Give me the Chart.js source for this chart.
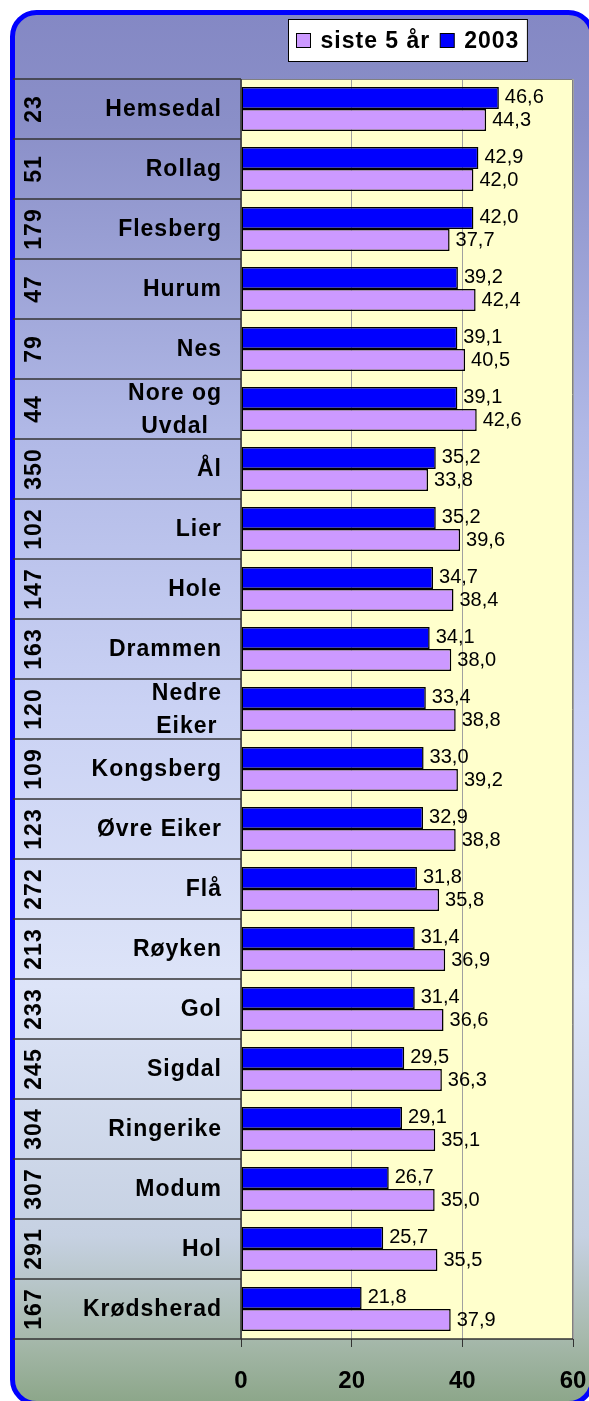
<!DOCTYPE html>
<html>
<head>
<meta charset="utf-8">
<script src="https://cdn.jsdelivr.net/npm/chart.js@4.4.0/dist/chart.umd.min.js"></script>
<style>
  html, body { margin: 0; padding: 0; background: #fff; }
  #chart { display: block; }
</style>
</head>
<body>
<canvas id="chart" width="589" height="1401"></canvas>
<script>
// data
const kommuner = ["Hemsedal", "Rollag", "Flesberg", "Hurum", "Nes", ["Nore og", "Uvdal"], "Ål", "Lier", "Hole",
  "Drammen", ["Nedre", "Eiker"], "Kongsberg", "Øvre Eiker", "Flå", "Røyken", "Gol", "Sigdal", "Ringerike",
  "Modum", "Hol", "Krødsherad"];
const rangering = ["23", "51", "179", "47", "79", "44", "350", "102", "147", "163", "120", "109", "123",
  "272", "213", "233", "245", "304", "307", "291", "167"];
const aar2003 = [46.6, 42.9, 42.0, 39.2, 39.1, 39.1, 35.2, 35.2, 34.7, 34.1, 33.4, 33.0, 32.9, 31.8, 31.4,
  31.4, 29.5, 29.1, 26.7, 25.7, 21.8];
const siste5aar = [44.3, 42.0, 37.7, 42.4, 40.5, 42.6, 33.8, 39.6, 38.4, 38.0, 38.8, 39.2, 38.8, 35.8, 36.9,
  36.6, 36.3, 35.1, 35.0, 35.5, 37.9];
const xTicks = [0, 20, 40, 60];

const BLUE = "#0000ff";
const PURPLE = "#cc99ff";
const PANEL_LEFT = 13;

function fmt(v) {
  return v.toFixed(1).replace(".", ",");
}

// background, plot area fill and the legend box
const backgroundPlugin = {
  id: "background",
  beforeDraw(chart) {
    const ctx = chart.ctx;
    const a = chart.chartArea;
    ctx.save();
    ctx.fillStyle = "#ffffff";
    ctx.fillRect(0, 0, chart.width, chart.height);

    const g = ctx.createLinearGradient(0, 12, 0, 1403);
    g.addColorStop(0, "#8488c4");
    g.addColorStop(0.08, "#8a8fc8");
    g.addColorStop(0.3, "#b0b8e6");
    g.addColorStop(0.5, "#cad2f4");
    g.addColorStop(0.7, "#dde4f8");
    g.addColorStop(0.88, "#c6d1e2");
    g.addColorStop(0.95, "#a8baae");
    g.addColorStop(1, "#8ca689");
    ctx.beginPath();
    ctx.roundRect(12.5, 12.5, 580, 1391, 24);
    ctx.fillStyle = g;
    ctx.fill();
    ctx.lineWidth = 5;
    ctx.strokeStyle = BLUE;
    ctx.stroke();

    ctx.fillStyle = "#ffffcc";
    ctx.fillRect(a.left, a.top, a.right - a.left, a.bottom - a.top);

    // legend
    const items = chart.data.datasets.slice().reverse();
    ctx.font = "bold 23px Arial";
    ctx.letterSpacing = "1px";
    const sq = 14, gapBox = 10, gapItem = 10;
    let w = 0;
    items.forEach((ds, i) => {
      w += sq + gapBox + ctx.measureText(ds.label).width + (i < items.length - 1 ? gapItem : 0);
    });
    const cx = (a.left + a.right) / 2;
    const boxL = Math.round(cx - w / 2 - 8) + 0.5;
    ctx.fillStyle = "#ffffff";
    ctx.fillRect(boxL, 19.5, w + 16, 42);
    ctx.lineWidth = 1;
    ctx.strokeStyle = "#000";
    ctx.strokeRect(boxL, 19.5, w + 16, 42);
    let x = boxL + 8;
    ctx.textBaseline = "middle";
    ctx.textAlign = "left";
    items.forEach((ds) => {
      ctx.fillStyle = ds.backgroundColor;
      ctx.fillRect(x, 33.5, sq, sq);
      ctx.strokeRect(x, 33.5, sq, sq);
      x += sq + gapBox;
      ctx.fillStyle = "#000";
      ctx.fillText(ds.label, x, 42);
      x += ctx.measureText(ds.label).width + gapItem;
    });
    ctx.restore();
  },
};

// category panel on the left, plot frame and value labels
const panelPlugin = {
  id: "panel",
  afterDraw(chart) {
    const ctx = chart.ctx;
    const a = chart.chartArea;
    const y = chart.scales.y;
    const n = kommuner.length;
    const step = (a.bottom - a.top) / n;
    ctx.save();

    // plot frame
    ctx.strokeStyle = "#808080";
    ctx.lineWidth = 1;
    ctx.beginPath();
    ctx.moveTo(a.left, a.top + 0.5);
    ctx.lineTo(a.right - 0.5, a.top + 0.5);
    ctx.lineTo(a.right - 0.5, a.bottom);
    ctx.stroke();

    ctx.strokeStyle = "#333";
    ctx.lineWidth = 1.5;
    for (let i = 0; i <= n; i++) {
      const yy = a.top + i * step;
      ctx.beginPath();
      ctx.moveTo(PANEL_LEFT, yy);
      ctx.lineTo(i === n ? a.right : a.left, yy);
      ctx.stroke();
    }
    ctx.beginPath();
    ctx.moveTo(a.left, a.top);
    ctx.lineTo(a.left, a.bottom);
    ctx.stroke();

    ctx.fillStyle = "#000";
    ctx.font = "bold 23px Arial";
    ctx.letterSpacing = "1px";
    kommuner.forEach((navn, i) => {
      const cy = y.getPixelForValue(i);
      // rotated number
      ctx.save();
      ctx.translate(35, cy);
      ctx.rotate(-Math.PI / 2);
      ctx.textAlign = "center";
      ctx.textBaseline = "middle";
      ctx.fillText(rangering[i], 0, 0);
      ctx.restore();

      const lines = Array.isArray(navn) ? navn : [navn];
      const maxW = Math.max(...lines.map((l) => ctx.measureText(l).width));
      const mid = 222 - maxW / 2;
      ctx.textAlign = "center";
      ctx.textBaseline = "middle";
      lines.forEach((l, k) => {
        ctx.fillText(l, mid, cy + (k - (lines.length - 1) / 2) * 33 + 1);
      });
    });

    // value labels
    ctx.letterSpacing = "0px";
    ctx.font = "20px Arial";
    ctx.textAlign = "left";
    ctx.textBaseline = "middle";
    chart.data.datasets.forEach((ds, di) => {
      chart.getDatasetMeta(di).data.forEach((bar, i) => {
        ctx.fillText(fmt(ds.data[i]), bar.x + 6, bar.y);
      });
    });
    ctx.restore();
  },
};

const ctx = document.getElementById("chart").getContext("2d");
const myChart = new Chart(ctx, {
  type: "bar",
  data: {
    labels: kommuner,
    datasets: [
      {
        label: "2003",
        data: aar2003,
        backgroundColor: BLUE,
        borderColor: "#000",
        borderWidth: 1.5,
        borderSkipped: false,
      },
      {
        label: "siste 5 år",
        data: siste5aar,
        backgroundColor: PURPLE,
        borderColor: "#000",
        borderWidth: 1.5,
        borderSkipped: false,
      },
    ],
  },
  options: {
    indexAxis: "y",
    responsive: false,
    animation: false,
    layout: {
      padding: { top: 79, right: 16, bottom: 0, left: 0 },
    },
    datasets: {
      bar: {
        categoryPercentage: 0.735,
        barPercentage: 1,
      },
    },
    plugins: {
      legend: { display: false },
      tooltip: { enabled: false },
    },
    scales: {
      x: {
        min: xTicks[0],
        max: xTicks[xTicks.length - 1],
        afterFit(scale) {
          scale.height = 62;
          scale.paddingLeft = 0;
          scale.paddingRight = 0;
        },
        ticks: {
          stepSize: xTicks[1] - xTicks[0],
          color: "#000",
          padding: 20,
          font: { family: "Arial", size: 24, weight: "bold" },
        },
        grid: {
          color: "#a0a0a0",
          lineWidth: 1,
          tickLength: 8,
          tickColor: "#333",
        },
        border: { display: false },
      },
      y: {
        afterFit(scale) {
          scale.width = 241;
        },
        ticks: { display: false },
        grid: { display: false },
        border: { display: false },
      },
    },
  },
  plugins: [backgroundPlugin, panelPlugin],
});
</script>
</body>
</html>
